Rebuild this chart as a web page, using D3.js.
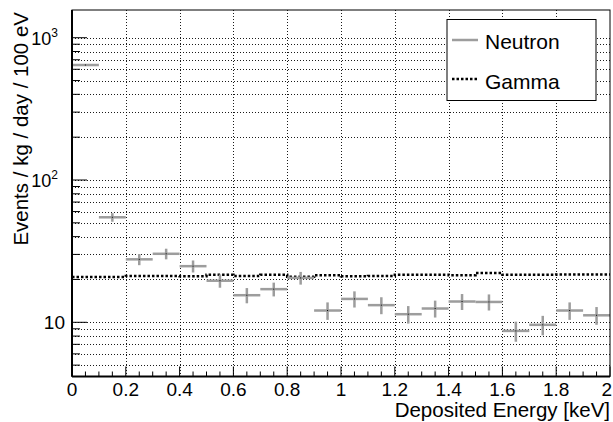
<!DOCTYPE html>
<html>
<head>
<meta charset="utf-8">
<script src="https://cdn.jsdelivr.net/npm/d3@7"></script>
<style>
  body { margin: 0; background: #fff; }
  svg { display: block; font-family: "Liberation Sans", Arial, sans-serif; }
</style>
</head>
<body>
<div id="chart"></div>
<script>
  'use strict';

  // bin centres, 100 eV wide bins
  var binCenters = [0.05, 0.15, 0.25, 0.35, 0.45, 0.55, 0.65, 0.75, 0.85, 0.95,
                    1.05, 1.15, 1.25, 1.35, 1.45, 1.55, 1.65, 1.75, 1.85, 1.95];
  var binWidth = 0.1;

  var neutronValues = [643, 54.7, 27.7, 30.3, 24.8, 19.6, 15.5, 17.1, 20.5, 12.1,
                       14.6, 13.2, 11.4, 12.5, 14.0, 13.9, 8.7, 9.6, 12.1, 11.2];
  var neutronErrors = [10, 3.8, 2.5, 2.6, 2.4, 2.1, 1.9, 1.9, 2.1, 1.7,
                       1.9, 1.8, 1.6, 1.7, 1.8, 1.8, 1.4, 1.5, 1.7, 1.6];

  var gammaValues = [20.8, 20.8, 21.15, 21.15, 21.05, 21.6, 21.15, 21.6, 20.9, 21.4,
                     21.05, 21.15, 21.6, 21.6, 21.4, 22.2, 21.6, 21.6, 21.7, 21.7];

  var xTickValues = [0, 0.2, 0.4, 0.6, 0.8, 1, 1.2, 1.4, 1.6, 1.8, 2];
  var xTickLabels = ['0', '0.2', '0.4', '0.6', '0.8', '1', '1.2', '1.4', '1.6', '1.8', '2'];
  var yTickValues = [10, 100, 1000];
  var yTickLabels = [{base: '10', exp: ''}, {base: '10', exp: '2'}, {base: '10', exp: '3'}];

  var legendLabels = ['Neutron', 'Gamma'];

  var W = 613, H = 422;
  var frame = {left: 72, right: 610, top: 10, bottom: 376.5};
  var neutronColor = '#9d9d9d';

  var svg = d3.select('#chart').append('svg')
    .attr('width', W)
    .attr('height', H);

  var x = d3.scaleLinear().domain([0, 2]).range([frame.left, frame.right]);
  var y = d3.scaleLog().domain([4.16, 1566]).range([frame.bottom, frame.top]);

  // grid
  var grid = svg.append('g')
    .attr('stroke', '#000')
    .attr('stroke-width', 0.9)
    .attr('stroke-dasharray', '1,2');
  grid.selectAll('line.gy').data(y.ticks()).enter().append('line')
    .attr('x1', frame.left).attr('x2', frame.right)
    .attr('y1', function(d) { return Math.round(y(d)) + 0.5; })
    .attr('y2', function(d) { return Math.round(y(d)) + 0.5; });
  grid.selectAll('line.gx').data(xTickValues.slice(1, -1)).enter().append('line')
    .attr('y1', frame.top).attr('y2', frame.bottom)
    .attr('x1', function(d) { return Math.round(x(d)) + 0.5; })
    .attr('x2', function(d) { return Math.round(x(d)) + 0.5; });

  // gamma histogram (step line)
  var gammaPts = binCenters.map(function(c, i) { return [c - binWidth / 2, gammaValues[i]]; });
  gammaPts.push([binCenters[binCenters.length - 1] + binWidth / 2, gammaValues[gammaValues.length - 1]]);
  var gammaLine = d3.line()
    .x(function(d) { return x(d[0]); })
    .y(function(d) { return y(d[1]); })
    .curve(d3.curveStepAfter);
  svg.append('path')
    .attr('d', gammaLine(gammaPts))
    .attr('fill', 'none')
    .attr('stroke', '#000')
    .attr('stroke-width', 2.5)
    .attr('stroke-dasharray', '2.5,2');

  // neutron points with error bars
  var pts = svg.append('g').selectAll('g').data(binCenters).enter().append('g');
  pts.append('line')
    .attr('x1', function(d) { return x(d - binWidth / 2); })
    .attr('x2', function(d) { return x(d + binWidth / 2); })
    .attr('y1', function(d, i) { return y(neutronValues[i]); })
    .attr('y2', function(d, i) { return y(neutronValues[i]); })
    .attr('stroke', neutronColor).attr('stroke-width', 2.5);
  pts.append('line')
    .attr('x1', function(d) { return x(d); })
    .attr('x2', function(d) { return x(d); })
    .attr('y1', function(d, i) { return y(neutronValues[i] - neutronErrors[i]); })
    .attr('y2', function(d, i) { return y(neutronValues[i] + neutronErrors[i]); })
    .attr('stroke', neutronColor).attr('stroke-width', 2.5);
  pts.append('rect')
    .attr('x', function(d) { return x(d) - 0.5; })
    .attr('y', function(d, i) { return y(neutronValues[i]) - 0.5; })
    .attr('width', 1).attr('height', 1)
    .attr('fill', '#000');

  // frame
  svg.append('rect')
    .attr('x', frame.left).attr('y', frame.top)
    .attr('width', frame.right - frame.left).attr('height', frame.bottom - frame.top)
    .attr('fill', 'none').attr('stroke', '#000').attr('stroke-width', 1);
  svg.append('line')
    .attr('x1', frame.left).attr('x2', frame.left)
    .attr('y1', frame.top).attr('y2', frame.bottom)
    .attr('stroke', '#000').attr('stroke-width', 2);
  svg.append('line')
    .attr('x1', frame.left).attr('x2', frame.right)
    .attr('y1', frame.bottom).attr('y2', frame.bottom)
    .attr('stroke', '#000').attr('stroke-width', 2);

  // ticks
  var ticks = svg.append('g').attr('stroke', '#000').attr('stroke-width', 1);
  ticks.selectAll('line.xm').data(x.ticks(40)).enter().append('line')
    .attr('x1', function(d) { return x(d); })
    .attr('x2', function(d) { return x(d); })
    .attr('y1', frame.bottom)
    .attr('y2', function(d) { return frame.bottom - (xTickValues.indexOf(+d.toFixed(2)) >= 0 ? 10 : 5); });
  ticks.selectAll('line.ym').data(y.ticks()).enter().append('line')
    .attr('y1', function(d) { return y(d); })
    .attr('y2', function(d) { return y(d); })
    .attr('x1', frame.left)
    .attr('x2', function(d) { return frame.left + (yTickValues.indexOf(d) >= 0 ? 15 : 8); });

  // x tick labels (last one kept inside the page)
  var lastX = xTickValues.length - 1;
  svg.selectAll('text.xl').data(xTickValues).enter().append('text')
    .attr('x', function(d, i) { return i === lastX ? W - 1 : x(d); })
    .attr('y', 396)
    .attr('text-anchor', function(d, i) { return i === lastX ? 'end' : 'middle'; })
    .attr('font-size', 19)
    .text(function(d, i) { return xTickLabels[i]; });

  // y tick labels
  var yl = svg.selectAll('text.yl').data(yTickValues).enter().append('text')
    .attr('x', function(d, i) { return yTickLabels[i].exp ? 58 : 65; })
    .attr('y', function(d) { return y(d) + 7; })
    .attr('text-anchor', 'end')
    .attr('font-size', function(d, i) { return yTickLabels[i].exp ? 18 : 19; });
  yl.append('tspan').text(function(d, i) { return yTickLabels[i].base; });
  yl.append('tspan')
    .attr('dy', -8)
    .attr('font-size', 12)
    .text(function(d, i) { return yTickLabels[i].exp; });

  // axis titles
  svg.append('text')
    .attr('x', 610).attr('y', 417)
    .attr('text-anchor', 'end')
    .attr('font-size', 20.5)
    .text('Deposited Energy [keV]');
  svg.append('text')
    .attr('transform', 'translate(28,12) rotate(-90)')
    .attr('text-anchor', 'end')
    .attr('font-size', 20.5)
    .text('Events / kg / day / 100 eV');

  // legend
  var leg = svg.append('g');
  leg.append('rect')
    .attr('x', 447).attr('y', 19.5).attr('width', 149).attr('height', 81)
    .attr('fill', '#fff').attr('stroke', '#000').attr('stroke-width', 1);
  leg.append('line')
    .attr('x1', 452).attr('x2', 478).attr('y1', 40).attr('y2', 40)
    .attr('stroke', neutronColor).attr('stroke-width', 2.5);
  leg.append('line')
    .attr('x1', 452).attr('x2', 478).attr('y1', 79).attr('y2', 79)
    .attr('stroke', '#000').attr('stroke-width', 2.5)
    .attr('stroke-dasharray', '2.5,2');
  leg.selectAll('text').data(legendLabels).enter().append('text')
    .attr('x', 485)
    .attr('y', function(d, i) { return i === 0 ? 49 : 89; })
    .attr('font-size', 21)
    .text(function(d) { return d; });
</script>
</body>
</html>
